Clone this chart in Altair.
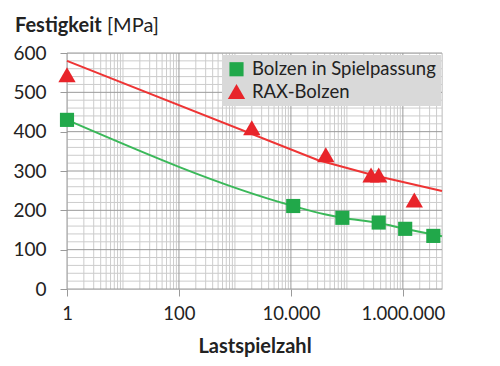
import altair as alt
import pandas as pd

# ---- data ----
series_names = ["Bolzen in Spielpassung", "RAX-Bolzen"]

green_x = [1, 11000, 83000, 370000, 1100000, 3500000]
green_y = [430, 211, 181, 169, 153, 135]

red_x = [1, 2000, 42000, 270000, 370000, 1600000]
red_y = [545, 410, 341, 290, 290, 226]

green_line_x = [1, 11000, 40000, 83000, 370000, 1100000, 5000000]
green_line_y = [430, 211, 190, 181, 168, 153, 134]

red_line_x = [1, 30000, 300000, 5000000]
red_line_y = [580, 328, 289, 249]

x_major = [1, 100, 10000, 1000000]
y_major = [0, 100, 200, 300, 400, 500, 600]
x_minor = [m * 10 ** k for k in range(0, 7) for m in range(1, 10)
           if m * 10 ** k <= 5000000 and m * 10 ** k not in x_major]
y_minor = [v for v in range(0, 601, 20) if v % 100 != 0]

FONT = "Lato"
GREEN = "#21a84a"
RED = "#e8242a"
GREEN_LINE = "#3ab859"
RED_LINE = "#ee3434"
MAJOR = "#9a9a9a"
MINOR = "#cccccc"

pts = pd.DataFrame({
    "x": green_x + red_x,
    "y": green_y + red_y,
    "s": [series_names[0]] * len(green_x) + [series_names[1]] * len(red_x),
})
gl = pd.DataFrame({"x": green_line_x, "y": green_line_y})
rl = pd.DataFrame({"x": red_line_x, "y": red_line_y})

label_expr = ("datum.value == 1 ? '1' : datum.value == 100 ? '100' : datum.value == 10000 ? '10.000' : "
              "datum.value == 1000000 ? '1.000.000' : ''")

xscale = alt.Scale(type="log", domain=[1, 5000000], nice=False)
yscale = alt.Scale(domain=[0, 600], nice=False)

xaxis = alt.Axis(
    values=x_major,
    labelExpr=label_expr,
    title="Lastspielzahl",
    titleFont=FONT, titleFontSize=20, titleFontWeight="bold", titleColor="#222",
    titlePadding=14,
    labelFont=FONT, labelFontSize=18.5, labelColor="#222", labelPadding=8,
    labelFlush=False, labelOverlap=False,
    grid=False, tickSize=7, tickColor=MAJOR, domain=False,
)
yaxis = alt.Axis(
    values=y_major,
    title=None,
    labelFont=FONT, labelFontSize=19, labelColor="#222", labelPadding=14,
    labelFlush=False, labelOverlap=False,
    grid=False, tickSize=7, tickColor=MAJOR, domain=False,
)

X = alt.X("x:Q", scale=xscale, axis=xaxis)
Y = alt.Y("y:Q", scale=yscale, axis=yaxis)

xminor_rules = alt.Chart(pd.DataFrame({"x": x_minor})).mark_rule(color=MINOR, strokeWidth=1).encode(x=X)
yminor_rules = alt.Chart(pd.DataFrame({"y": y_minor})).mark_rule(color=MINOR, strokeWidth=1).encode(y=Y)
xmajor_rules = alt.Chart(pd.DataFrame({"x": x_major})).mark_rule(color=MAJOR, strokeWidth=1).encode(x=X)
ymajor_rules = alt.Chart(pd.DataFrame({"y": y_major})).mark_rule(color=MAJOR, strokeWidth=1).encode(y=Y)

green_line = alt.Chart(gl).mark_line(color=GREEN_LINE, strokeWidth=2, interpolate="monotone").encode(x=X, y=Y)
red_line = alt.Chart(rl).mark_line(color=RED_LINE, strokeWidth=2).encode(x=X, y=Y)

points = alt.Chart(pts).mark_point(filled=True, opacity=1).encode(
    x=X, y=Y,
    color=alt.Color("s:N", scale=alt.Scale(domain=series_names, range=[GREEN, RED]), title=None,
                    legend=alt.Legend(orient="none", legendX=155, legendY=2,
                                      fillColor="#d9d9d9", padding=5,
                                      labelFont=FONT, labelFontSize=18.5, labelColor="#222",
                                      symbolSize=120, rowPadding=3, labelLimit=300, labelOffset=6)),
    shape=alt.Shape("s:N", scale=alt.Scale(domain=series_names, range=["square", "triangle-up"]), title=None),
    size=alt.Size("s:N", scale=alt.Scale(domain=series_names, range=[200, 300]), legend=None),
)

title_bold = alt.Chart(pd.DataFrame({"t": ["Festigkeit"]})).mark_text(
    font=FONT, fontSize=20, fontWeight="bold", align="left", baseline="alphabetic", color="#222"
).encode(text="t:N", x=alt.value(-52), y=alt.value(-21))
title_unit = alt.Chart(pd.DataFrame({"t": ["[MPa]"]})).mark_text(
    font=FONT, fontSize=20, align="left", baseline="alphabetic", color="#222"
).encode(text="t:N", x=alt.value(40), y=alt.value(-21))

chart = alt.layer(
    xminor_rules, yminor_rules, xmajor_rules, ymajor_rules,
    green_line, red_line, points, title_bold, title_unit
).properties(
    width=375, height=236,
    autosize=alt.AutoSizeParams(type="none"),
    padding={"left": 59, "top": 45, "right": 50, "bottom": 80},
).configure_view(stroke=MAJOR, strokeWidth=1).configure(background="white")

chart.save("out.html", embed_options={"renderer": "svg", "actions": False})
